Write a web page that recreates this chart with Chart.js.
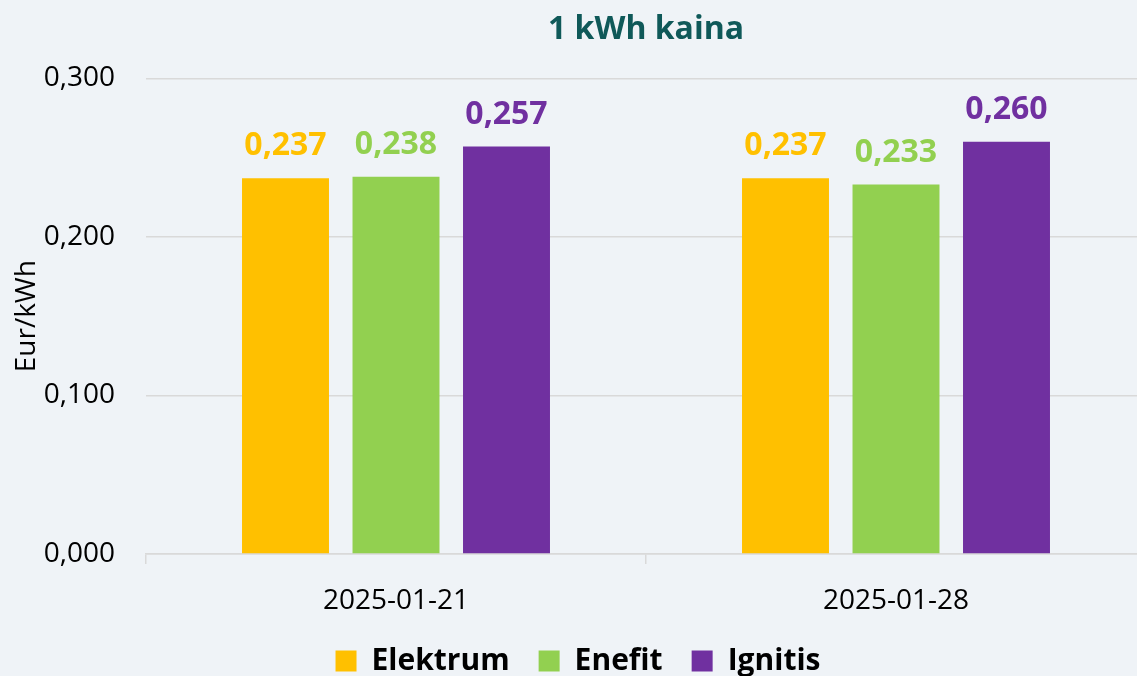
<!DOCTYPE html>
<html>
<head>
<meta charset="utf-8">
<script src="https://cdn.jsdelivr.net/npm/chart.js@4/dist/chart.umd.min.js"></script>
<style>
  html, body { margin: 0; padding: 0; background: #EFF3F7; overflow: hidden; }
  #wrap { position: absolute; left: 0; top: 0; width: 1150px; height: 686px; }
</style>
</head>
<body>
<div id="wrap"><canvas id="c" width="1150" height="686"></canvas></div>
<script>
const categories = ['2025-01-21', '2025-01-28'];
const seriesNames = ['Elektrum', 'Enefit', 'Ignitis'];
const elektrum = [0.237, 0.237];
const enefit = [0.238, 0.233];
const ignitis = [0.257, 0.260];
const yTicks = [0, 0.1, 0.2, 0.3];
const chartTitle = '1 kWh kaina';
const yTitle = 'Eur/kWh';
const colors = ['#FFC000', '#92D050', '#7030A0'];

const FONT = "'Open Sans', 'DejaVu Sans', sans-serif";
const fmt = v => Number(v).toFixed(3).replace('.', ',');

const valueLabels = {
  id: 'valueLabels',
  afterDatasetsDraw(chart) {
    const ctx = chart.ctx;
    ctx.save();
    ctx.font = "bold 32px " + FONT;
    ctx.textAlign = 'center';
    ctx.textBaseline = 'alphabetic';
    chart.data.datasets.forEach((ds, i) => {
      const meta = chart.getDatasetMeta(i);
      meta.data.forEach((el, j) => {
        ctx.fillStyle = ds.backgroundColor;
        ctx.fillText(fmt(ds.data[j]), el.x, el.y - 23);
      });
    });
    ctx.restore();
  }
};

new Chart(document.getElementById('c'), {
  type: 'bar',
  data: {
    labels: categories,
    datasets: [
      { label: seriesNames[0], data: elektrum, backgroundColor: colors[0] },
      { label: seriesNames[1], data: enefit, backgroundColor: colors[1] },
      { label: seriesNames[2], data: ignitis, backgroundColor: colors[2] }
    ]
  },
  options: {
    responsive: false,
    devicePixelRatio: 1,
    animation: false,
    categoryPercentage: 0.663,
    barPercentage: 0.787,
    layout: { padding: { left: 10, right: 4, top: 0, bottom: 0 } },
    plugins: {
      title: {
        display: true,
        text: chartTitle,
        fullSize: false,
        color: '#0F5959',
        font: { family: FONT, size: 32, weight: 'bold' },
        padding: { top: 11, bottom: 29 }
      },
      legend: {
        position: 'bottom',
        labels: {
          color: '#000000',
          font: { family: FONT, size: 30, weight: 'bold' },
          boxWidth: 21,
          boxHeight: 21,
          padding: 29
        }
      },
      tooltip: { enabled: false }
    },
    scales: {
      x: {
        afterFit: axis => { axis.height = 63; },
        grid: {
          display: true,
          drawOnChartArea: false,
          drawTicks: true,
          tickLength: 10,
          color: '#D9D9D9',
          lineWidth: 1.5
        },
        border: { display: true, color: '#D9D9D9', width: 1.5 },
        ticks: {
          color: '#000000',
          font: { family: FONT, size: 28 },
          padding: 20,
          maxRotation: 0
        }
      },
      y: {
        min: 0,
        max: 0.3,
        afterFit: axis => { axis.width = 136; },
        afterBuildTicks: axis => { axis.ticks = yTicks.map(v => ({ value: v })); },
        grid: { color: '#D9D9D9', lineWidth: 1.5, drawTicks: false },
        border: { display: false },
        ticks: {
          color: '#000000',
          font: { family: FONT, size: 28 },
          padding: 31,
          callback: v => fmt(v)
        },
        title: {
          display: true,
          text: yTitle,
          color: '#000000',
          font: { family: FONT, size: 28 },
          padding: { top: 0, bottom: 0 }
        }
      }
    }
  },
  plugins: [valueLabels]
});
</script>
</body>
</html>
